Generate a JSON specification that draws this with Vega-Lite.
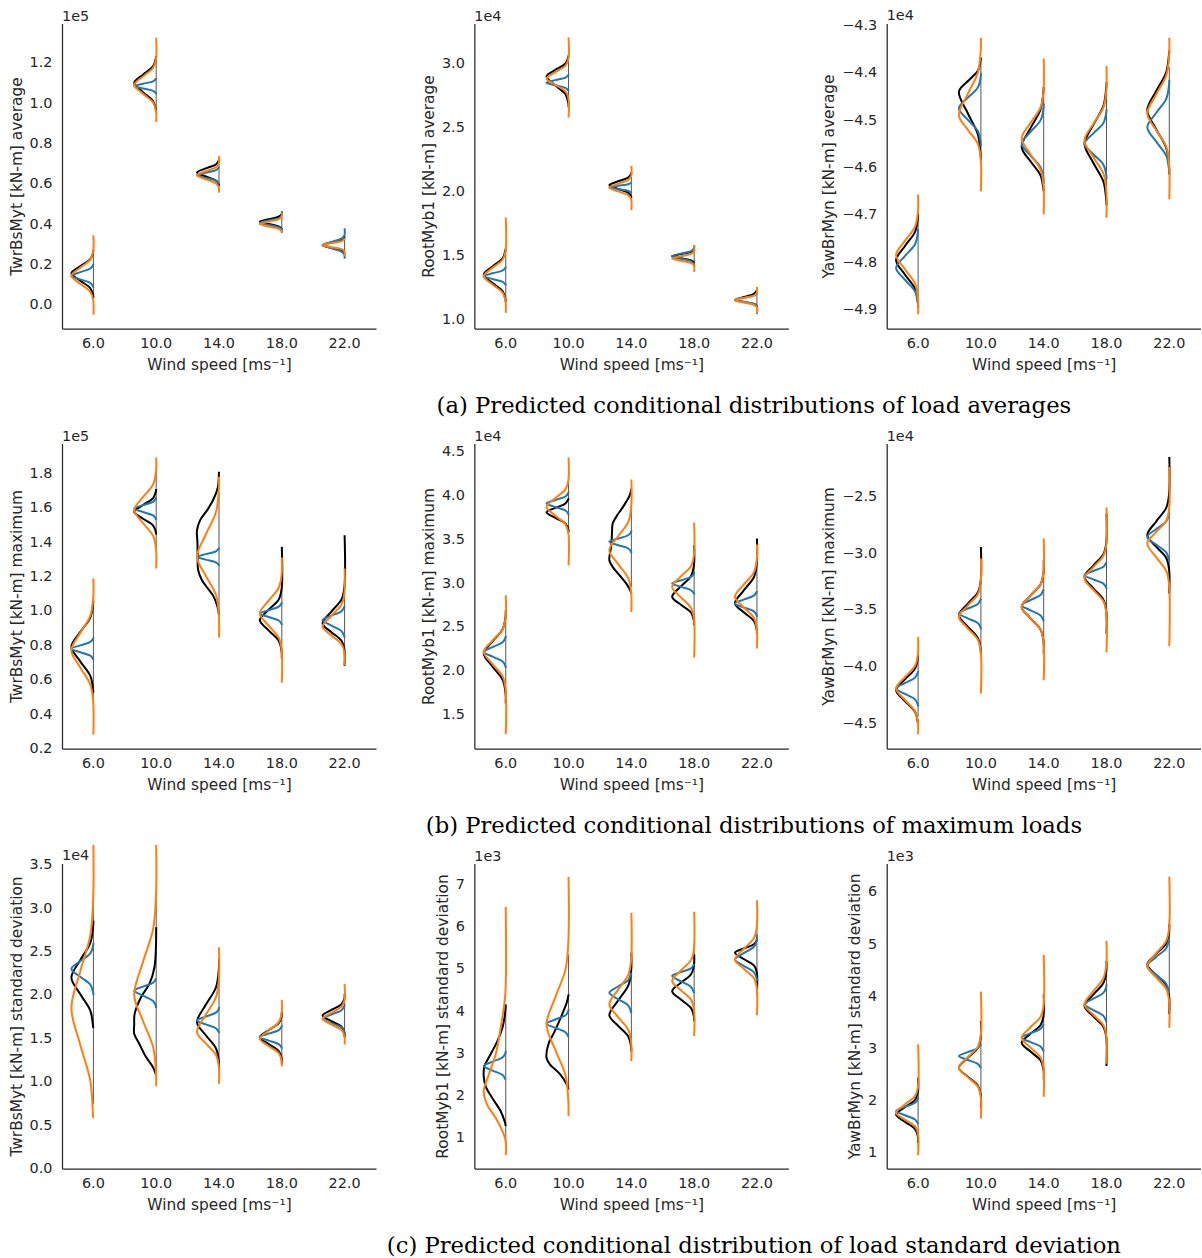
{
"$schema":"https://vega.github.io/schema/vega-lite/v6.json",
"padding":{"left":9,"top":7.5,"right":0,"bottom":0},
"bounds":"flush",
"spacing":420,
"datasets":{
"rl":[
{"p":"a1","w":"6.0","y":0.038,"hi":0.262,"d":0},{"p":"a1","w":"10.0","y":0.957,"hi":1.23,"d":0},{"p":"a1","w":"14.0","y":0.58,"hi":0.70,"d":0},{"p":"a1","w":"18.0","y":0.365,"hi":0.435,"d":0},{"p":"a1","w":"22.0","y":0.25,"hi":0.35,"d":0},
{"p":"a2","w":"6.0","y":1.15,"hi":1.54,"d":0},{"p":"a2","w":"10.0","y":2.65,"hi":3.07,"d":0},{"p":"a2","w":"14.0","y":1.92,"hi":2.135,"d":0},{"p":"a2","w":"18.0","y":1.42,"hi":1.555,"d":0},{"p":"a2","w":"22.0","y":1.10,"hi":1.23,"d":0},
{"p":"a3","w":"6.0","y":-4.88,"hi":-4.697,"d":0},{"p":"a3","w":"10.0","y":-4.578,"hi":-4.377,"d":0},{"p":"a3","w":"14.0","y":-4.645,"hi":-4.437,"d":0},{"p":"a3","w":"18.0","y":-4.645,"hi":-4.444,"d":0},{"p":"a3","w":"22.0","y":-4.61,"hi":-4.388,"d":0},
{"p":"b1","w":"6.0","y":0.472,"hi":1.034,"d":0},{"p":"b1","w":"10.0","y":1.354,"hi":1.819,"d":0},{"p":"b1","w":"14.0","y":0.976,"hi":1.693,"d":0},{"p":"b1","w":"18.0","y":0.724,"hi":1.209,"d":0},{"p":"b1","w":"22.0","y":0.753,"hi":1.102,"d":0},
{"p":"b2","w":"6.0","y":1.679,"hi":2.689,"d":0},{"p":"b2","w":"10.0","y":3.471,"hi":4.233,"d":0},{"p":"b2","w":"14.0","y":2.956,"hi":4.005,"d":0},{"p":"b2","w":"18.0","y":2.518,"hi":3.433,"d":0},{"p":"b2","w":"22.0","y":2.423,"hi":3.223,"d":0},
{"p":"b3","w":"6.0","y":-4.441,"hi":-3.928,"d":0},{"p":"b3","w":"10.0","y":-3.928,"hi":-3.21,"d":0},{"p":"b3","w":"14.0","y":-3.884,"hi":-3.063,"d":0},{"p":"b3","w":"18.0","y":-3.635,"hi":-2.828,"d":0},{"p":"b3","w":"22.0","y":-3.356,"hi":-2.447,"d":0},
{"p":"c1","w":"6.0","y":0.747,"hi":3.2,"d":0},{"p":"c1","w":"10.0","y":1.092,"hi":3.2,"d":0},{"p":"c1","w":"14.0","y":1.131,"hi":2.185,"d":0},{"p":"c1","w":"18.0","y":1.246,"hi":1.801,"d":0},{"p":"c1","w":"22.0","y":1.495,"hi":1.974,"d":0},
{"p":"c2","w":"6.0","y":0.842,"hi":4.157,"d":0},{"p":"c2","w":"10.0","y":2.144,"hi":5.34,"d":0},{"p":"c2","w":"14.0","y":3.05,"hi":5.38,"d":0},{"p":"c2","w":"18.0","y":3.76,"hi":5.62,"d":0},{"p":"c2","w":"22.0","y":4.35,"hi":6.17,"d":0},
{"p":"c3","w":"6.0","y":1.096,"hi":2.439,"d":0},{"p":"c3","w":"10.0","y":1.863,"hi":3.526,"d":0},{"p":"c3","w":"14.0","y":2.407,"hi":4.037,"d":0},{"p":"c3","w":"18.0","y":3.014,"hi":4.612,"d":0},{"p":"c3","w":"22.0","y":3.685,"hi":5.476,"d":0}
],
"cv":[
{"p":"a1","w":"6.0","s":"k","y":[0.033,0.044,0.081,0.118,0.155,0.19,0.225,0.26,0.27],"d":[0,0.01,0.14,0.6,1,0.6,0.14,0.01,0]},
{"p":"a1","w":"10.0","s":"k","y":[0.955,0.965,1.01,1.055,1.1,1.142,1.184,1.226,1.235],"d":[0,0.01,0.14,0.6,1,0.6,0.14,0.01,0]},
{"p":"a1","w":"14.0","s":"k","y":[0.59,0.596,0.616,0.636,0.656,0.676,0.696,0.716,0.722],"d":[0,0.01,0.14,0.6,1,0.6,0.14,0.01,0]},
{"p":"a1","w":"18.0","s":"k","y":[0.372,0.376,0.388,0.4,0.412,0.424,0.436,0.448,0.452],"d":[0,0.01,0.14,0.6,1,0.6,0.14,0.01,0]},
{"p":"a1","w":"22.0","s":"k","y":[0.252,0.256,0.269,0.282,0.295,0.308,0.321,0.334,0.338],"d":[0,0.01,0.14,0.6,1,0.6,0.14,0.01,0]},
{"p":"a1","w":"6.0","s":"b","y":[0.083,0.089,0.107,0.125,0.143,0.161,0.179,0.197,0.203],"d":[0,0.01,0.14,0.6,1,0.6,0.14,0.01,0]},
{"p":"a1","w":"10.0","s":"b","y":[1.045,1.049,1.061,1.073,1.085,1.097,1.109,1.121,1.125],"d":[0,0.01,0.14,0.6,1,0.6,0.14,0.01,0]},
{"p":"a1","w":"14.0","s":"b","y":[0.599,0.603,0.616,0.629,0.642,0.655,0.668,0.681,0.685],"d":[0,0.01,0.14,0.6,1,0.6,0.14,0.01,0]},
{"p":"a1","w":"18.0","s":"b","y":[0.356,0.373,0.384,0.395,0.406,0.417,0.428,0.439,0.464],"d":[0,0.01,0.14,0.6,1,0.6,0.14,0.01,0]},
{"p":"a1","w":"22.0","s":"b","y":[0.228,0.247,0.263,0.279,0.295,0.311,0.327,0.343,0.378],"d":[0,0.01,0.14,0.6,1,0.6,0.14,0.01,0]},
{"p":"a1","w":"6.0","s":"o","y":[-0.05,0.023,0.063,0.103,0.143,0.183,0.223,0.263,0.344],"d":[0,0.01,0.14,0.6,1,0.6,0.14,0.01,0]},
{"p":"a1","w":"10.0","s":"o","y":[0.907,0.961,1.004,1.047,1.09,1.133,1.176,1.219,1.326],"d":[0,0.01,0.14,0.6,1,0.6,0.14,0.01,0]},
{"p":"a1","w":"14.0","s":"o","y":[0.556,0.582,0.602,0.622,0.642,0.662,0.682,0.702,0.737],"d":[0,0.01,0.14,0.6,1,0.6,0.14,0.01,0]},
{"p":"a1","w":"18.0","s":"o","y":[0.358,0.364,0.376,0.388,0.4,0.412,0.424,0.436,0.455],"d":[0,0.01,0.14,0.6,1,0.6,0.14,0.01,0]},
{"p":"a1","w":"22.0","s":"o","y":[0.24,0.265,0.275,0.285,0.295,0.305,0.315,0.325,0.33],"d":[0,0.01,0.14,0.6,1,0.6,0.14,0.01,0]},
{"p":"a2","w":"6.0","s":"k","y":[1.14,1.155,1.22,1.285,1.35,1.415,1.48,1.545,1.555],"d":[0,0.01,0.14,0.6,1,0.6,0.14,0.01,0]},
{"p":"a2","w":"10.0","s":"k","y":[2.66,2.69,2.76,2.83,2.9,2.95,3.0,3.05,3.065],"d":[0,0.01,0.14,0.6,1,0.6,0.14,0.01,0]},
{"p":"a2","w":"14.0","s":"k","y":[1.95,1.96,1.99,2.02,2.05,2.08,2.11,2.14,2.15],"d":[0,0.01,0.14,0.6,1,0.6,0.14,0.01,0]},
{"p":"a2","w":"18.0","s":"k","y":[1.439,1.444,1.461,1.478,1.495,1.512,1.529,1.546,1.551],"d":[0,0.01,0.14,0.6,1,0.6,0.14,0.01,0]},
{"p":"a2","w":"22.0","s":"k","y":[1.101,1.106,1.121,1.136,1.151,1.176,1.201,1.226,1.232],"d":[0,0.01,0.14,0.6,1,0.6,0.14,0.01,0]},
{"p":"a2","w":"6.0","s":"b","y":[1.266,1.273,1.295,1.317,1.339,1.361,1.383,1.405,1.412],"d":[0,0.01,0.14,0.6,1,0.6,0.14,0.01,0]},
{"p":"a2","w":"10.0","s":"b","y":[2.784,2.79,2.81,2.83,2.85,2.87,2.89,2.91,2.916],"d":[0,0.01,0.14,0.6,1,0.6,0.14,0.01,0]},
{"p":"a2","w":"14.0","s":"b","y":[1.988,1.992,2.005,2.018,2.031,2.044,2.057,2.07,2.074],"d":[0,0.01,0.14,0.6,1,0.6,0.14,0.01,0]},
{"p":"a2","w":"18.0","s":"b","y":[1.41,1.435,1.455,1.475,1.495,1.515,1.535,1.555,1.58],"d":[0,0.01,0.14,0.6,1,0.6,0.14,0.01,0]},
{"p":"a2","w":"22.0","s":"b","y":[1.042,1.107,1.123,1.139,1.155,1.171,1.187,1.203,1.232],"d":[0,0.01,0.14,0.6,1,0.6,0.14,0.01,0]},
{"p":"a2","w":"6.0","s":"o","y":[1.052,1.144,1.209,1.274,1.339,1.404,1.469,1.534,1.797],"d":[0,0.01,0.14,0.6,1,0.6,0.14,0.01,0]},
{"p":"a2","w":"10.0","s":"o","y":[2.578,2.733,2.783,2.833,2.883,2.933,2.983,3.033,3.203],"d":[0,0.01,0.14,0.6,1,0.6,0.14,0.01,0]},
{"p":"a2","w":"14.0","s":"o","y":[1.854,1.941,1.971,2.001,2.031,2.061,2.091,2.121,2.2],"d":[0,0.01,0.14,0.6,1,0.6,0.14,0.01,0]},
{"p":"a2","w":"18.0","s":"o","y":[1.372,1.423,1.441,1.459,1.477,1.495,1.513,1.531,1.581],"d":[0,0.01,0.14,0.6,1,0.6,0.14,0.01,0]},
{"p":"a2","w":"22.0","s":"o","y":[1.047,1.097,1.115,1.133,1.151,1.169,1.187,1.205,1.255],"d":[0,0.01,0.14,0.6,1,0.6,0.14,0.01,0]},
{"p":"a3","w":"6.0","s":"k","y":[-4.895,-4.886,-4.856,-4.826,-4.796,-4.766,-4.736,-4.706,-4.697],"d":[0,0.01,0.14,0.6,1,0.6,0.14,0.01,0]},
{"p":"a3","w":"10.0","s":"k","y":[-4.585,-4.575,-4.53,-4.485,-4.44,-4.418,-4.396,-4.374,-4.368],"d":[0,0.01,0.14,0.6,1,0.6,0.14,0.01,0]},
{"p":"a3","w":"14.0","s":"k","y":[-4.65,-4.647,-4.617,-4.587,-4.557,-4.517,-4.477,-4.437,-4.43],"d":[0,0.01,0.14,0.6,1,0.6,0.14,0.01,0]},
{"p":"a3","w":"18.0","s":"k","y":[-4.68,-4.67,-4.63,-4.59,-4.55,-4.51,-4.47,-4.43,-4.42],"d":[0,0.01,0.14,0.6,1,0.6,0.14,0.01,0]},
{"p":"a3","w":"22.0","s":"k","y":[-4.615,-4.599,-4.559,-4.519,-4.479,-4.439,-4.399,-4.359,-4.353],"d":[0,0.01,0.14,0.6,1,0.6,0.14,0.01,0]},
{"p":"a3","w":"6.0","s":"b","y":[-4.895,-4.887,-4.862,-4.837,-4.812,-4.787,-4.762,-4.737,-4.73],"d":[0,0.01,0.14,0.6,1,0.6,0.14,0.01,0]},
{"p":"a3","w":"10.0","s":"b","y":[-4.555,-4.547,-4.523,-4.499,-4.475,-4.453,-4.431,-4.409,-4.4],"d":[0,0.01,0.14,0.6,1,0.6,0.14,0.01,0]},
{"p":"a3","w":"14.0","s":"b","y":[-4.635,-4.625,-4.6,-4.575,-4.55,-4.525,-4.5,-4.475,-4.465],"d":[0,0.01,0.14,0.6,1,0.6,0.14,0.01,0]},
{"p":"a3","w":"18.0","s":"b","y":[-4.625,-4.616,-4.594,-4.572,-4.55,-4.528,-4.506,-4.484,-4.477],"d":[0,0.01,0.14,0.6,1,0.6,0.14,0.01,0]},
{"p":"a3","w":"22.0","s":"b","y":[-4.61,-4.605,-4.575,-4.545,-4.515,-4.485,-4.455,-4.425,-4.415],"d":[0,0.01,0.14,0.6,1,0.6,0.14,0.01,0]},
{"p":"a3","w":"6.0","s":"o","y":[-4.91,-4.875,-4.845,-4.815,-4.785,-4.755,-4.725,-4.695,-4.657],"d":[0,0.01,0.14,0.6,1,0.6,0.14,0.01,0]},
{"p":"a3","w":"10.0","s":"o","y":[-4.65,-4.58,-4.55,-4.52,-4.49,-4.445,-4.4,-4.355,-4.326],"d":[0,0.01,0.14,0.6,1,0.6,0.14,0.01,0]},
{"p":"a3","w":"14.0","s":"o","y":[-4.699,-4.638,-4.605,-4.572,-4.539,-4.506,-4.473,-4.44,-4.37],"d":[0,0.01,0.14,0.6,1,0.6,0.14,0.01,0]},
{"p":"a3","w":"18.0","s":"o","y":[-4.706,-4.648,-4.613,-4.578,-4.543,-4.508,-4.473,-4.438,-4.386],"d":[0,0.01,0.14,0.6,1,0.6,0.14,0.01,0]},
{"p":"a3","w":"22.0","s":"o","y":[-4.667,-4.591,-4.556,-4.521,-4.486,-4.446,-4.406,-4.366,-4.326],"d":[0,0.01,0.14,0.6,1,0.6,0.14,0.01,0]},
{"p":"b1","w":"6.0","s":"k","y":[0.525,0.537,0.622,0.707,0.792,0.877,0.962,1.047,1.06],"d":[0,0.01,0.14,0.6,1,0.6,0.14,0.01,0]},
{"p":"b1","w":"10.0","s":"k","y":[1.445,1.457,1.497,1.537,1.577,1.617,1.657,1.697,1.71],"d":[0,0.01,0.14,0.6,1,0.6,0.14,0.01,0]},
{"p":"b1","w":"14.0","s":"k","y":[0.976,1.03,1.085,1.13,1.18,1.24,1.32,1.40,1.47,1.53,1.59,1.65,1.72,1.81],"d":[0,0.08,0.25,0.5,0.78,0.95,0.97,0.98,1,0.85,0.52,0.25,0.05,0]},
{"p":"b1","w":"18.0","s":"k","y":[0.724,0.767,0.827,0.887,0.947,1.007,1.067,1.127,1.373],"d":[0,0.01,0.14,0.6,1,0.6,0.14,0.01,0]},
{"p":"b1","w":"22.0","s":"k","y":[0.681,0.777,0.827,0.877,0.927,0.997,1.067,1.137,1.441],"d":[0,0.01,0.14,0.6,1,0.6,0.14,0.01,0]},
{"p":"b1","w":"6.0","s":"b","y":[0.714,0.72,0.74,0.76,0.78,0.8,0.82,0.84,0.846],"d":[0,0.01,0.14,0.6,1,0.6,0.14,0.01,0]},
{"p":"b1","w":"10.0","s":"b","y":[1.53,1.536,1.556,1.576,1.596,1.616,1.636,1.656,1.662],"d":[0,0.01,0.14,0.6,1,0.6,0.14,0.01,0]},
{"p":"b1","w":"14.0","s":"b","y":[1.262,1.267,1.283,1.299,1.315,1.331,1.347,1.363,1.368],"d":[0,0.01,0.14,0.6,1,0.6,0.14,0.01,0]},
{"p":"b1","w":"18.0","s":"b","y":[0.919,0.925,0.945,0.965,0.985,1.005,1.025,1.045,1.051],"d":[0,0.01,0.14,0.6,1,0.6,0.14,0.01,0]},
{"p":"b1","w":"22.0","s":"b","y":[0.845,0.851,0.883,0.915,0.947,0.973,0.999,1.025,1.03],"d":[0,0.01,0.14,0.6,1,0.6,0.14,0.01,0]},
{"p":"b1","w":"6.0","s":"o","y":[0.281,0.472,0.572,0.672,0.772,0.872,0.972,1.072,1.189],"d":[0,0.01,0.14,0.6,1,0.6,0.14,0.01,0]},
{"p":"b1","w":"10.0","s":"o","y":[1.247,1.362,1.437,1.512,1.587,1.662,1.737,1.812,1.893],"d":[0,0.01,0.14,0.6,1,0.6,0.14,0.01,0]},
{"p":"b1","w":"14.0","s":"o","y":[0.846,0.985,1.095,1.205,1.315,1.445,1.575,1.705,1.781],"d":[0,0.01,0.14,0.6,1,0.6,0.14,0.01,0]},
{"p":"b1","w":"18.0","s":"o","y":[0.582,0.775,0.845,0.915,0.985,1.06,1.135,1.21,1.311],"d":[0,0.01,0.14,0.6,1,0.6,0.14,0.01,0]},
{"p":"b1","w":"22.0","s":"o","y":[0.685,0.758,0.808,0.858,0.908,0.973,1.038,1.103,1.247],"d":[0,0.01,0.14,0.6,1,0.6,0.14,0.01,0]},
{"p":"b2","w":"6.0","s":"k","y":[1.622,1.744,1.894,2.044,2.194,2.334,2.474,2.614,2.689],"d":[0,0.01,0.14,0.6,1,0.6,0.14,0.01,0]},
{"p":"b2","w":"10.0","s":"k","y":[3.585,3.615,3.68,3.745,3.81,3.86,3.91,3.96,3.97],"d":[0,0.01,0.14,0.6,1,0.6,0.14,0.01,0]},
{"p":"b2","w":"14.0","s":"k","y":[2.88,2.918,2.994,3.09,3.185,3.261,3.414,3.566,3.68,3.757,3.871,4.0,4.081],"d":[0,0.05,0.23,0.54,0.85,1,0.92,0.88,0.85,0.69,0.38,0.08,0]},
{"p":"b2","w":"18.0","s":"k","y":[2.518,2.572,2.662,2.752,2.842,2.962,3.082,3.202,3.433],"d":[0,0.01,0.14,0.6,1,0.6,0.14,0.01,0]},
{"p":"b2","w":"22.0","s":"k","y":[2.423,2.466,2.566,2.666,2.766,2.916,3.066,3.216,3.509],"d":[0,0.01,0.14,0.6,1,0.6,0.14,0.01,0]},
{"p":"b2","w":"6.0","s":"b","y":[2.03,2.048,2.103,2.158,2.213,2.268,2.323,2.378,2.396],"d":[0,0.01,0.14,0.6,1,0.6,0.14,0.01,0]},
{"p":"b2","w":"10.0","s":"b","y":[3.775,3.79,3.83,3.87,3.91,3.95,3.99,4.03,4.045],"d":[0,0.01,0.14,0.6,1,0.6,0.14,0.01,0]},
{"p":"b2","w":"14.0","s":"b","y":[3.34,3.357,3.395,3.433,3.471,3.509,3.547,3.585,3.6],"d":[0,0.01,0.14,0.6,1,0.6,0.14,0.01,0]},
{"p":"b2","w":"18.0","s":"b","y":[2.87,2.88,2.918,2.956,2.994,3.032,3.07,3.108,3.13],"d":[0,0.01,0.14,0.6,1,0.6,0.14,0.01,0]},
{"p":"b2","w":"22.0","s":"b","y":[2.61,2.631,2.676,2.721,2.766,2.811,2.856,2.901,2.91],"d":[0,0.01,0.14,0.6,1,0.6,0.14,0.01,0]},
{"p":"b2","w":"6.0","s":"o","y":[1.271,1.793,1.933,2.073,2.213,2.343,2.473,2.603,2.861],"d":[0,0.01,0.14,0.6,1,0.6,0.14,0.01,0]},
{"p":"b2","w":"10.0","s":"o","y":[3.204,3.571,3.671,3.771,3.871,3.971,4.071,4.171,4.436],"d":[0,0.01,0.14,0.6,1,0.6,0.14,0.01,0]},
{"p":"b2","w":"14.0","s":"o","y":[2.67,2.896,3.056,3.216,3.376,3.536,3.696,3.856,4.184],"d":[0,0.01,0.14,0.6,1,0.6,0.14,0.01,0]},
{"p":"b2","w":"18.0","s":"o","y":[2.148,2.596,2.716,2.836,2.956,3.076,3.196,3.316,3.692],"d":[0,0.01,0.14,0.6,1,0.6,0.14,0.01,0]},
{"p":"b2","w":"22.0","s":"o","y":[2.251,2.482,2.602,2.722,2.842,2.982,3.122,3.262,3.44],"d":[0,0.01,0.14,0.6,1,0.6,0.14,0.01,0]},
{"p":"b3","w":"6.0","s":"k","y":[-4.5,-4.492,-4.397,-4.302,-4.207,-4.112,-4.017,-3.922,-3.899],"d":[0,0.01,0.14,0.6,1,0.6,0.14,0.01,0]},
{"p":"b3","w":"10.0","s":"k","y":[-3.884,-3.847,-3.747,-3.647,-3.547,-3.447,-3.347,-3.247,-2.946],"d":[0,0.01,0.14,0.6,1,0.6,0.14,0.01,0]},
{"p":"b3","w":"14.0","s":"k","y":[-3.884,-3.774,-3.674,-3.574,-3.474,-3.374,-3.274,-3.174,-3.063],"d":[0,0.01,0.14,0.6,1,0.6,0.14,0.01,0]},
{"p":"b3","w":"18.0","s":"k","y":[-3.708,-3.51,-3.41,-3.31,-3.21,-3.11,-3.01,-2.91,-2.652],"d":[0,0.01,0.14,0.6,1,0.6,0.14,0.01,0]},
{"p":"b3","w":"22.0","s":"k","y":[-3.356,-3.143,-3.043,-2.943,-2.843,-2.723,-2.603,-2.483,-2.154],"d":[0,0.01,0.14,0.6,1,0.6,0.14,0.01,0]},
{"p":"b3","w":"6.0","s":"b","y":[-4.35,-4.336,-4.288,-4.24,-4.192,-4.144,-4.096,-4.048,-4.04],"d":[0,0.01,0.14,0.6,1,0.6,0.14,0.01,0]},
{"p":"b3","w":"10.0","s":"b","y":[-3.67,-3.658,-3.616,-3.574,-3.532,-3.49,-3.448,-3.406,-3.4],"d":[0,0.01,0.14,0.6,1,0.6,0.14,0.01,0]},
{"p":"b3","w":"14.0","s":"b","y":[-3.6,-3.594,-3.549,-3.504,-3.459,-3.414,-3.369,-3.324,-3.32],"d":[0,0.01,0.14,0.6,1,0.6,0.14,0.01,0]},
{"p":"b3","w":"18.0","s":"b","y":[-3.315,-3.306,-3.269,-3.232,-3.195,-3.158,-3.121,-3.084,-3.08],"d":[0,0.01,0.14,0.6,1,0.6,0.14,0.01,0]},
{"p":"b3","w":"22.0","s":"b","y":[-3.07,-3.062,-2.994,-2.926,-2.858,-2.79,-2.722,-2.654,-2.645],"d":[0,0.01,0.14,0.6,1,0.6,0.14,0.01,0]},
{"p":"b3","w":"6.0","s":"o","y":[-4.594,-4.492,-4.392,-4.292,-4.192,-4.092,-3.992,-3.892,-3.738],"d":[0,0.01,0.14,0.6,1,0.6,0.14,0.01,0]},
{"p":"b3","w":"10.0","s":"o","y":[-4.236,-3.862,-3.762,-3.662,-3.562,-3.462,-3.362,-3.262,-3.048],"d":[0,0.01,0.14,0.6,1,0.6,0.14,0.01,0]},
{"p":"b3","w":"14.0","s":"o","y":[-4.119,-3.774,-3.674,-3.574,-3.474,-3.374,-3.274,-3.174,-2.872],"d":[0,0.01,0.14,0.6,1,0.6,0.14,0.01,0]},
{"p":"b3","w":"18.0","s":"o","y":[-3.875,-3.524,-3.424,-3.324,-3.224,-3.124,-3.024,-2.924,-2.6],"d":[0,0.01,0.14,0.6,1,0.6,0.14,0.01,0]},
{"p":"b3","w":"22.0","s":"o","y":[-3.82,-3.276,-3.156,-3.036,-2.916,-2.816,-2.716,-2.616,-2.242],"d":[0,0.01,0.14,0.6,1,0.6,0.14,0.01,0]},
{"p":"c1","w":"6.0","s":"k","y":[1.62,1.63,1.82,2.01,2.2,2.4,2.6,2.8,2.855],"d":[0,0.01,0.14,0.6,1,0.6,0.14,0.01,0]},
{"p":"c1","w":"10.0","s":"k","y":[1.073,1.169,1.284,1.437,1.552,1.66,1.782,1.974,2.127,2.319,2.779],"d":[0,0.15,0.46,0.77,1,1,0.98,0.69,0.31,0.08,0]},
{"p":"c1","w":"14.0","s":"k","y":[1.131,1.236,1.386,1.536,1.686,1.886,2.086,2.286,2.415],"d":[0,0.01,0.14,0.6,1,0.6,0.14,0.01,0]},
{"p":"c1","w":"18.0","s":"k","y":[1.207,1.274,1.354,1.434,1.514,1.594,1.674,1.754,1.801],"d":[0,0.01,0.14,0.6,1,0.6,0.14,0.01,0]},
{"p":"c1","w":"22.0","s":"k","y":[1.514,1.568,1.633,1.698,1.763,1.828,1.893,1.958,2.012],"d":[0,0.01,0.14,0.6,1,0.6,0.14,0.01,0]},
{"p":"c1","w":"6.0","s":"b","y":[2.0,2.03,2.12,2.21,2.3,2.39,2.48,2.57,2.6],"d":[0,0.01,0.14,0.6,1,0.6,0.14,0.01,0]},
{"p":"c1","w":"10.0","s":"b","y":[1.85,1.871,1.931,1.991,2.051,2.096,2.141,2.186,2.19],"d":[0,0.01,0.14,0.6,1,0.6,0.14,0.01,0]},
{"p":"c1","w":"14.0","s":"b","y":[1.56,1.571,1.616,1.661,1.706,1.751,1.796,1.841,1.86],"d":[0,0.01,0.14,0.6,1,0.6,0.14,0.01,0]},
{"p":"c1","w":"18.0","s":"b","y":[1.38,1.394,1.434,1.474,1.514,1.554,1.594,1.634,1.65],"d":[0,0.01,0.14,0.6,1,0.6,0.14,0.01,0]},
{"p":"c1","w":"22.0","s":"b","y":[1.56,1.575,1.625,1.675,1.725,1.775,1.825,1.875,1.89],"d":[0,0.01,0.14,0.6,1,0.6,0.14,0.01,0]},
{"p":"c1","w":"6.0","s":"o","y":[0.58,0.59,1.01,1.43,1.85,2.27,2.69,3.11,3.729],"d":[0,0.01,0.14,0.6,1,0.6,0.14,0.01,0]},
{"p":"c1","w":"10.0","s":"o","y":[0.947,1.1,1.4,1.7,2.0,2.38,2.76,3.14,3.729],"d":[0,0.01,0.14,0.6,1,0.6,0.14,0.01,0]},
{"p":"c1","w":"14.0","s":"o","y":[0.977,1.181,1.311,1.441,1.571,1.771,1.971,2.171,2.549],"d":[0,0.01,0.14,0.6,1,0.6,0.14,0.01,0]},
{"p":"c1","w":"18.0","s":"o","y":[1.177,1.246,1.329,1.412,1.495,1.591,1.687,1.783,1.943],"d":[0,0.01,0.14,0.6,1,0.6,0.14,0.01,0]},
{"p":"c1","w":"22.0","s":"o","y":[1.43,1.53,1.595,1.66,1.725,1.795,1.865,1.935,2.127],"d":[0,0.01,0.14,0.6,1,0.6,0.14,0.01,0]},
{"p":"c2","w":"6.0","s":"k","y":[1.276,1.39,1.63,1.947,2.2,2.45,2.7,2.9,3.29,3.605,3.95,4.157],"d":[0,0.05,0.23,0.62,0.9,1,0.97,0.77,0.38,0.15,0.03,0]},
{"p":"c2","w":"10.0","s":"k","y":[2.144,2.26,2.5,2.74,2.89,3.21,3.53,4.0,4.2,4.394],"d":[0,0.08,0.38,0.85,1,0.92,0.62,0.23,0.08,0]},
{"p":"c2","w":"14.0","s":"k","y":[3.05,3.15,3.4,3.65,3.9,4.25,4.6,4.95,5.38],"d":[0,0.01,0.14,0.6,1,0.6,0.14,0.01,0]},
{"p":"c2","w":"18.0","s":"k","y":[3.76,3.87,4.07,4.27,4.47,4.67,4.87,5.07,5.34],"d":[0,0.01,0.14,0.6,1,0.6,0.14,0.01,0]},
{"p":"c2","w":"22.0","s":"k","y":[4.47,4.93,5.08,5.23,5.38,5.48,5.58,5.68,5.74],"d":[0,0.01,0.14,0.6,1,0.6,0.14,0.01,0]},
{"p":"c2","w":"6.0","s":"b","y":[2.38,2.382,2.487,2.592,2.697,2.802,2.907,3.012,3.06],"d":[0,0.01,0.14,0.6,1,0.6,0.14,0.01,0]},
{"p":"c2","w":"10.0","s":"b","y":[3.39,3.4,3.5,3.6,3.7,3.8,3.9,4.0,4.04],"d":[0,0.01,0.14,0.6,1,0.6,0.14,0.01,0]},
{"p":"c2","w":"14.0","s":"b","y":[3.95,3.98,4.13,4.28,4.43,4.58,4.73,4.88,4.91],"d":[0,0.01,0.14,0.6,1,0.6,0.14,0.01,0]},
{"p":"c2","w":"18.0","s":"b","y":[4.42,4.44,4.57,4.7,4.83,4.92,5.01,5.1,5.11],"d":[0,0.01,0.14,0.6,1,0.6,0.14,0.01,0]},
{"p":"c2","w":"22.0","s":"b","y":[4.71,4.77,4.92,5.07,5.22,5.37,5.52,5.67,5.81],"d":[0,0.01,0.14,0.6,1,0.6,0.14,0.01,0]},
{"p":"c2","w":"6.0","s":"o","y":[0.59,0.92,1.158,1.474,1.789,2.105,2.5,2.973,3.605,4.236,4.6,6.462],"d":[0,0,0.15,0.46,0.85,1,0.77,0.46,0.23,0.05,0,0]},
{"p":"c2","w":"10.0","s":"o","y":[1.513,1.88,2.48,3.08,3.68,4.33,4.98,5.63,7.172],"d":[0,0.01,0.14,0.6,1,0.6,0.14,0.01,0]},
{"p":"c2","w":"14.0","s":"o","y":[2.815,3.257,3.557,3.857,4.157,4.507,4.857,5.207,6.327],"d":[0,0.01,0.14,0.6,1,0.6,0.14,0.01,0]},
{"p":"c2","w":"18.0","s":"o","y":[3.407,4.05,4.27,4.49,4.71,4.96,5.21,5.46,6.35],"d":[0,0.01,0.14,0.6,1,0.6,0.14,0.01,0]},
{"p":"c2","w":"22.0","s":"o","y":[3.9,4.56,4.78,5.0,5.22,5.47,5.72,5.97,6.62],"d":[0,0.01,0.14,0.6,1,0.6,0.14,0.01,0]},
{"p":"c3","w":"6.0","s":"k","y":[1.192,1.315,1.455,1.595,1.735,1.875,2.015,2.155,2.439],"d":[0,0.01,0.14,0.6,1,0.6,0.14,0.01,0]},
{"p":"c3","w":"10.0","s":"k","y":[1.863,2.12,2.29,2.46,2.63,2.82,3.01,3.2,3.526],"d":[0,0.01,0.14,0.6,1,0.6,0.14,0.01,0]},
{"p":"c3","w":"14.0","s":"k","y":[2.407,2.6,2.77,2.94,3.11,3.28,3.45,3.62,4.037],"d":[0,0.01,0.14,0.6,1,0.6,0.14,0.01,0]},
{"p":"c3","w":"18.0","s":"k","y":[2.662,3.213,3.413,3.613,3.813,4.033,4.253,4.473,4.676],"d":[0,0.01,0.14,0.6,1,0.6,0.14,0.01,0]},
{"p":"c3","w":"22.0","s":"k","y":[3.654,4.01,4.21,4.41,4.61,4.81,5.01,5.21,5.38],"d":[0,0.01,0.14,0.6,1,0.6,0.14,0.01,0]},
{"p":"c3","w":"6.0","s":"b","y":[1.55,1.56,1.64,1.72,1.8,1.88,1.96,2.04,2.1],"d":[0,0.01,0.14,0.6,1,0.6,0.14,0.01,0]},
{"p":"c3","w":"10.0","s":"b","y":[2.62,2.629,2.704,2.779,2.854,2.929,3.004,3.079,3.09],"d":[0,0.01,0.14,0.6,1,0.6,0.14,0.01,0]},
{"p":"c3","w":"14.0","s":"b","y":[2.94,2.951,3.036,3.121,3.206,3.291,3.376,3.461,3.47],"d":[0,0.01,0.14,0.6,1,0.6,0.14,0.01,0]},
{"p":"c3","w":"18.0","s":"b","y":[3.5,3.515,3.625,3.735,3.845,3.955,4.065,4.175,4.23],"d":[0,0.01,0.14,0.6,1,0.6,0.14,0.01,0]},
{"p":"c3","w":"22.0","s":"b","y":[4.06,4.07,4.24,4.41,4.58,4.75,4.92,5.09,5.1],"d":[0,0.01,0.14,0.6,1,0.6,0.14,0.01,0]},
{"p":"c3","w":"6.0","s":"o","y":[0.955,1.377,1.507,1.637,1.767,1.927,2.087,2.247,3.078],"d":[0,0.01,0.14,0.6,1,0.6,0.14,0.01,0]},
{"p":"c3","w":"10.0","s":"o","y":[1.659,2.09,2.27,2.45,2.63,2.83,3.03,3.23,4.088],"d":[0,0.01,0.14,0.6,1,0.6,0.14,0.01,0]},
{"p":"c3","w":"14.0","s":"o","y":[2.074,2.636,2.826,3.016,3.206,3.406,3.606,3.806,4.79],"d":[0,0.01,0.14,0.6,1,0.6,0.14,0.01,0]},
{"p":"c3","w":"18.0","s":"o","y":[2.707,3.245,3.445,3.645,3.845,4.095,4.345,4.595,5.06],"d":[0,0.01,0.14,0.6,1,0.6,0.14,0.01,0]},
{"p":"c3","w":"22.0","s":"o","y":[3.398,3.92,4.14,4.36,4.58,4.82,5.06,5.3,6.288],"d":[0,0.01,0.14,0.6,1,0.6,0.14,0.01,0]}
]
},
"vconcat":[
{"hconcat":[
{"width":314,"height":305,"title":{"text":"1e5","dy":5},
"encoding":{"x":{"field":"w","type":"ordinal","scale":{"type":"band","domain":["6.0","10.0","14.0","18.0","22.0"],"paddingInner":0,"paddingOuter":0},"axis":{"title":"Wind speed [ms⁻¹]"}},
"xOffset":{"field":"d","type":"quantitative","scale":{"domain":[0,1],"range":[31.4,9.4]}},
"y":{"field":"y","type":"quantitative","scale":{"domain":[-0.119,1.396],"nice":false,"zero":false},"axis":{"title":"TwrBsMyt [kN-m] average","values":[0,0.2,0.4,0.6,0.8,1,1.2],"format":".1f"}}},
"layer":[
{"data":{"name":"rl"},"transform":[{"filter":"datum.p=='a1'"}],"mark":{"type":"rule","color":"#555555","strokeWidth":1},"encoding":{"y2":{"field":"hi"}}},
{"data":{"name":"cv"},"transform":[{"filter":"datum.p=='a1'"},{"flatten":["y","d"]}],"mark":{"type":"line","interpolate":"catmull-rom","strokeWidth":2},"encoding":{"color":{"field":"s","type":"nominal","scale":{"domain":["k","b","o"],"range":["#000000","#1f77b4","#ff7f0e"]},"legend":null},"detail":{"field":"w"},"order":{"field":"y","type":"quantitative"}}}]},
{"width":314,"height":305,"title":{"text":"1e4","dy":5},
"encoding":{"x":{"field":"w","type":"ordinal","scale":{"type":"band","domain":["6.0","10.0","14.0","18.0","22.0"],"paddingInner":0,"paddingOuter":0},"axis":{"title":"Wind speed [ms⁻¹]"}},
"xOffset":{"field":"d","type":"quantitative","scale":{"domain":[0,1],"range":[31.4,9.4]}},
"y":{"field":"y","type":"quantitative","scale":{"domain":[0.93,3.3125],"nice":false,"zero":false},"axis":{"title":"RootMyb1 [kN-m] average","values":[1,1.5,2,2.5,3],"format":".1f"}}},
"layer":[
{"data":{"name":"rl"},"transform":[{"filter":"datum.p=='a2'"}],"mark":{"type":"rule","color":"#555555","strokeWidth":1},"encoding":{"y2":{"field":"hi"}}},
{"data":{"name":"cv"},"transform":[{"filter":"datum.p=='a2'"},{"flatten":["y","d"]}],"mark":{"type":"line","interpolate":"catmull-rom","strokeWidth":2},"encoding":{"color":{"field":"s","type":"nominal","scale":{"domain":["k","b","o"],"range":["#000000","#1f77b4","#ff7f0e"]},"legend":null},"detail":{"field":"w"},"order":{"field":"y","type":"quantitative"}}}]},
{"width":314,"height":305,"title":{"text":"1e4","dy":10},
"encoding":{"x":{"field":"w","type":"ordinal","scale":{"type":"band","domain":["6.0","10.0","14.0","18.0","22.0"],"paddingInner":0,"paddingOuter":0},"axis":{"title":"Wind speed [ms⁻¹]"}},
"xOffset":{"field":"d","type":"quantitative","scale":{"domain":[0,1],"range":[31.4,9.4]}},
"y":{"field":"y","type":"quantitative","scale":{"domain":[-4.94,-4.296],"nice":false,"zero":false},"axis":{"title":"YawBrMyn [kN-m] average","values":[-4.9,-4.8,-4.7,-4.6,-4.5,-4.4,-4.3],"format":".1f"}}},
"layer":[
{"data":{"name":"rl"},"transform":[{"filter":"datum.p=='a3'"}],"mark":{"type":"rule","color":"#555555","strokeWidth":1},"encoding":{"y2":{"field":"hi"}}},
{"data":{"name":"cv"},"transform":[{"filter":"datum.p=='a3'"},{"flatten":["y","d"]}],"mark":{"type":"line","interpolate":"catmull-rom","strokeWidth":2},"encoding":{"color":{"field":"s","type":"nominal","scale":{"domain":["k","b","o"],"range":["#000000","#1f77b4","#ff7f0e"]},"legend":null},"detail":{"field":"w"},"order":{"field":"y","type":"quantitative"}}}]}
],"spacing":98.35,"bounds":"flush",
"resolve":{"scale":{"x":"independent","y":"independent","xOffset":"independent"}},
"title":{"text":"(a) Predicted conditional distributions of load averages","orient":"bottom","anchor":"middle","frame":"bounds","font":"DejaVu Serif","fontSize":22.7,"color":"#000000","dx":149,"offset":21.5}},
{"hconcat":[
{"width":314,"height":305,"title":{"text":"1e5","dy":4.5},
"encoding":{"x":{"field":"w","type":"ordinal","scale":{"type":"band","domain":["6.0","10.0","14.0","18.0","22.0"],"paddingInner":0,"paddingOuter":0},"axis":{"title":"Wind speed [ms⁻¹]"}},
"xOffset":{"field":"d","type":"quantitative","scale":{"domain":[0,1],"range":[31.4,9.4]}},
"y":{"field":"y","type":"quantitative","scale":{"domain":[0.2,1.9745],"nice":false,"zero":false},"axis":{"title":"TwrBsMyt [kN-m] maximum","values":[0.2,0.4,0.6,0.8,1,1.2,1.4,1.6,1.8],"format":".1f"}}},
"layer":[
{"data":{"name":"rl"},"transform":[{"filter":"datum.p=='b1'"}],"mark":{"type":"rule","color":"#555555","strokeWidth":1},"encoding":{"y2":{"field":"hi"}}},
{"data":{"name":"cv"},"transform":[{"filter":"datum.p=='b1'"},{"flatten":["y","d"]}],"mark":{"type":"line","interpolate":"catmull-rom","strokeWidth":2},"encoding":{"color":{"field":"s","type":"nominal","scale":{"domain":["k","b","o"],"range":["#000000","#1f77b4","#ff7f0e"]},"legend":null},"detail":{"field":"w"},"order":{"field":"y","type":"quantitative"}}}]},
{"width":314,"height":305,"title":{"text":"1e4","dy":4.5},
"encoding":{"x":{"field":"w","type":"ordinal","scale":{"type":"band","domain":["6.0","10.0","14.0","18.0","22.0"],"paddingInner":0,"paddingOuter":0},"axis":{"title":"Wind speed [ms⁻¹]"}},
"xOffset":{"field":"d","type":"quantitative","scale":{"domain":[0,1],"range":[31.4,9.4]}},
"y":{"field":"y","type":"quantitative","scale":{"domain":[1.108,4.596],"nice":false,"zero":false},"axis":{"title":"RootMyb1 [kN-m] maximum","values":[1.5,2,2.5,3,3.5,4,4.5],"format":".1f"}}},
"layer":[
{"data":{"name":"rl"},"transform":[{"filter":"datum.p=='b2'"}],"mark":{"type":"rule","color":"#555555","strokeWidth":1},"encoding":{"y2":{"field":"hi"}}},
{"data":{"name":"cv"},"transform":[{"filter":"datum.p=='b2'"},{"flatten":["y","d"]}],"mark":{"type":"line","interpolate":"catmull-rom","strokeWidth":2},"encoding":{"color":{"field":"s","type":"nominal","scale":{"domain":["k","b","o"],"range":["#000000","#1f77b4","#ff7f0e"]},"legend":null},"detail":{"field":"w"},"order":{"field":"y","type":"quantitative"}}}]},
{"width":314,"height":305,"title":{"text":"1e4","dy":4.5},
"encoding":{"x":{"field":"w","type":"ordinal","scale":{"type":"band","domain":["6.0","10.0","14.0","18.0","22.0"],"paddingInner":0,"paddingOuter":0},"axis":{"title":"Wind speed [ms⁻¹]"}},
"xOffset":{"field":"d","type":"quantitative","scale":{"domain":[0,1],"range":[31.4,9.4]}},
"y":{"field":"y","type":"quantitative","scale":{"domain":[-4.72,-2.036],"nice":false,"zero":false},"axis":{"title":"YawBrMyn [kN-m] maximum","values":[-4.5,-4,-3.5,-3,-2.5],"format":".1f"}}},
"layer":[
{"data":{"name":"rl"},"transform":[{"filter":"datum.p=='b3'"}],"mark":{"type":"rule","color":"#555555","strokeWidth":1},"encoding":{"y2":{"field":"hi"}}},
{"data":{"name":"cv"},"transform":[{"filter":"datum.p=='b3'"},{"flatten":["y","d"]}],"mark":{"type":"line","interpolate":"catmull-rom","strokeWidth":2},"encoding":{"color":{"field":"s","type":"nominal","scale":{"domain":["k","b","o"],"range":["#000000","#1f77b4","#ff7f0e"]},"legend":null},"detail":{"field":"w"},"order":{"field":"y","type":"quantitative"}}}]}
],"spacing":98.35,"bounds":"flush",
"resolve":{"scale":{"x":"independent","y":"independent","xOffset":"independent"}},
"title":{"text":"(b) Predicted conditional distributions of maximum loads","orient":"bottom","anchor":"middle","frame":"bounds","font":"DejaVu Serif","fontSize":22.7,"color":"#000000","dx":149,"offset":21.5}},
{"hconcat":[
{"width":314,"height":305,"title":{"text":"1e4","dy":26.5},
"encoding":{"x":{"field":"w","type":"ordinal","scale":{"type":"band","domain":["6.0","10.0","14.0","18.0","22.0"],"paddingInner":0,"paddingOuter":0},"axis":{"title":"Wind speed [ms⁻¹]"}},
"xOffset":{"field":"d","type":"quantitative","scale":{"domain":[0,1],"range":[31.4,9.4]}},
"y":{"field":"y","type":"quantitative","scale":{"domain":[0,3.515],"nice":false,"zero":false},"axis":{"title":"TwrBsMyt [kN-m] standard deviation","values":[0,0.5,1,1.5,2,2.5,3,3.5],"format":".1f"}}},
"layer":[
{"data":{"name":"rl"},"transform":[{"filter":"datum.p=='c1'"}],"mark":{"type":"rule","color":"#555555","strokeWidth":1},"encoding":{"y2":{"field":"hi"}}},
{"data":{"name":"cv"},"transform":[{"filter":"datum.p=='c1'"},{"flatten":["y","d"]}],"mark":{"type":"line","interpolate":"catmull-rom","strokeWidth":2},"encoding":{"color":{"field":"s","type":"nominal","scale":{"domain":["k","b","o"],"range":["#000000","#1f77b4","#ff7f0e"]},"legend":null},"detail":{"field":"w"},"order":{"field":"y","type":"quantitative"}}}]},
{"width":314,"height":305,"title":{"text":"1e3","dy":4.5},
"encoding":{"x":{"field":"w","type":"ordinal","scale":{"type":"band","domain":["6.0","10.0","14.0","18.0","22.0"],"paddingInner":0,"paddingOuter":0},"axis":{"title":"Wind speed [ms⁻¹]"}},
"xOffset":{"field":"d","type":"quantitative","scale":{"domain":[0,1],"range":[31.4,9.4]}},
"y":{"field":"y","type":"quantitative","scale":{"domain":[0.275,7.49],"nice":false,"zero":false},"axis":{"title":"RootMyb1 [kN-m] standard deviation","values":[1,2,3,4,5,6,7],"format":"d"}}},
"layer":[
{"data":{"name":"rl"},"transform":[{"filter":"datum.p=='c2'"}],"mark":{"type":"rule","color":"#555555","strokeWidth":1},"encoding":{"y2":{"field":"hi"}}},
{"data":{"name":"cv"},"transform":[{"filter":"datum.p=='c2'"},{"flatten":["y","d"]}],"mark":{"type":"line","interpolate":"catmull-rom","strokeWidth":2},"encoding":{"color":{"field":"s","type":"nominal","scale":{"domain":["k","b","o"],"range":["#000000","#1f77b4","#ff7f0e"]},"legend":null},"detail":{"field":"w"},"order":{"field":"y","type":"quantitative"}}}]},
{"width":314,"height":305,"title":{"text":"1e3","dy":4.5},
"encoding":{"x":{"field":"w","type":"ordinal","scale":{"type":"band","domain":["6.0","10.0","14.0","18.0","22.0"],"paddingInner":0,"paddingOuter":0},"axis":{"title":"Wind speed [ms⁻¹]"}},
"xOffset":{"field":"d","type":"quantitative","scale":{"domain":[0,1],"range":[31.4,9.4]}},
"y":{"field":"y","type":"quantitative","scale":{"domain":[0.7,6.543],"nice":false,"zero":false},"axis":{"title":"YawBrMyn [kN-m] standard deviation","values":[1,2,3,4,5,6],"format":"d"}}},
"layer":[
{"data":{"name":"rl"},"transform":[{"filter":"datum.p=='c3'"}],"mark":{"type":"rule","color":"#555555","strokeWidth":1},"encoding":{"y2":{"field":"hi"}}},
{"data":{"name":"cv"},"transform":[{"filter":"datum.p=='c3'"},{"flatten":["y","d"]}],"mark":{"type":"line","interpolate":"catmull-rom","strokeWidth":2},"encoding":{"color":{"field":"s","type":"nominal","scale":{"domain":["k","b","o"],"range":["#000000","#1f77b4","#ff7f0e"]},"legend":null},"detail":{"field":"w"},"order":{"field":"y","type":"quantitative"}}}]}
],"spacing":98.35,"bounds":"flush",
"resolve":{"scale":{"x":"independent","y":"independent","xOffset":"independent"}},
"title":{"text":"(c) Predicted conditional distribution of load standard deviation","orient":"bottom","anchor":"middle","frame":"bounds","font":"DejaVu Serif","fontSize":22.7,"color":"#000000","dx":149,"offset":21.5}}
],
"resolve":{"scale":{"x":"independent","y":"independent","xOffset":"independent"}},
"config":{
"view":{"stroke":null},
"font":"DejaVu Sans",
"axis":{"domainColor":"#262626","domainWidth":1.25,"ticks":false,"tickSize":0,"grid":false,"labelFont":"DejaVu Sans","labelFontSize":14.4,"labelColor":"#262626","titleFont":"DejaVu Sans","titleFontSize":15.4,"titleFontWeight":"normal","titleColor":"#262626"},
"axisX":{"labelAngle":0,"labelPadding":8,"titlePadding":8},
"axisY":{"labelPadding":10,"titlePadding":5},
"title":{"font":"DejaVu Sans","fontSize":14.4,"fontWeight":"normal","color":"#262626","anchor":"start","frame":"group","offset":0}
}
}
